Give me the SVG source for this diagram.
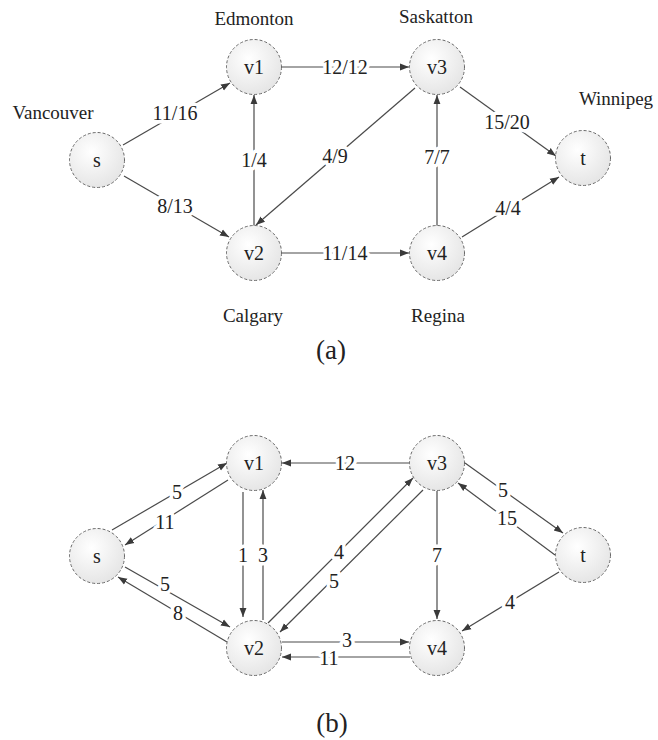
<svg xmlns="http://www.w3.org/2000/svg" width="658" height="740" viewBox="0 0 658 740">
<defs>
<radialGradient id="g" cx="0.4" cy="0.35" r="0.7">
<stop offset="0" stop-color="#ffffff"/>
<stop offset="1" stop-color="#e4e4e4"/>
</radialGradient>
<marker id="arr" viewBox="0 0 10 10" refX="10" refY="5" markerWidth="9" markerHeight="9" markerUnits="userSpaceOnUse" orient="auto">
<path d="M0,1.2 L10,5 L0,8.8 z" fill="#3a3a3a"/>
</marker>
</defs>
<style>
text{font-family:"Liberation Serif","Times New Roman",serif;fill:#222;text-anchor:middle;dominant-baseline:central}
.node circle{fill:url(#g);stroke:#6a6a6a;stroke-width:1;stroke-dasharray:3 2}
.node text{font-size:20px}
.city{font-size:19px}
.cap{font-size:27px}
.edges line{stroke:#4a4a4a;stroke-width:1.2;marker-end:url(#arr)}
.lbl{font-size:20px;stroke:#fff;stroke-width:7;paint-order:stroke;stroke-linejoin:round}
</style>
<rect width="658" height="740" fill="#fff"/>

<!-- (a) -->
<g id="edges-a" class="edges">
<line x1="123" y1="145" x2="230" y2="83"/>
<line x1="124" y1="176" x2="229" y2="237"/>
<line x1="254" y1="226" x2="254" y2="95"/>
<line x1="282" y1="67" x2="409" y2="67"/>
<line x1="415" y1="88" x2="256" y2="225"/>
<line x1="460" y1="87" x2="556" y2="156"/>
<line x1="437" y1="226" x2="437" y2="95"/>
<line x1="282" y1="253" x2="409" y2="253"/>
<line x1="462" y1="237" x2="559" y2="177"/>
<text class="lbl" x="175" y="113">11/16</text>
<text class="lbl" x="175" y="206">8/13</text>
<text class="lbl" x="254" y="160">1/4</text>
<text class="lbl" x="345" y="67">12/12</text>
<text class="lbl" x="335" y="156">4/9</text>
<text class="lbl" x="507" y="122">15/20</text>
<text class="lbl" x="437" y="157">7/7</text>
<text class="lbl" x="345" y="253">11/14</text>
<text class="lbl" x="508" y="208">4/4</text>
</g>
<g id="a-s" class="node"><circle cx="97" cy="160" r="27.5"/><text x="97" y="160">s</text></g>
<g id="a-v1" class="node"><circle cx="254" cy="67" r="27.5"/><text x="254" y="67">v1</text></g>
<g id="a-v2" class="node"><circle cx="254" cy="253" r="27.5"/><text x="254" y="253">v2</text></g>
<g id="a-v3" class="node"><circle cx="437" cy="67" r="27.5"/><text x="437" y="67">v3</text></g>
<g id="a-v4" class="node"><circle cx="437" cy="253" r="27.5"/><text x="437" y="253">v4</text></g>
<g id="a-t" class="node"><circle cx="583" cy="158" r="27.5"/><text x="583" y="158">t</text></g>
<g id="cities">
<text class="city" x="254" y="18">Edmonton</text>
<text class="city" x="53" y="112">Vancouver</text>
<text class="city" x="436" y="16">Saskatton</text>
<text class="city" x="616" y="98">Winnipeg</text>
<text class="city" x="253" y="315">Calgary</text>
<text class="city" x="438" y="315">Regina</text>
</g>
<text class="cap" x="331" y="350">(a)</text>

<!-- (b) -->
<g id="edges-b" class="edges">
<line x1="112" y1="530" x2="227" y2="463"/>
<line x1="228" y1="480" x2="125" y2="545"/>
<line x1="125" y1="567" x2="230" y2="627"/>
<line x1="227" y1="642" x2="118" y2="577"/>
<line x1="243" y1="492" x2="243" y2="617"/>
<line x1="263" y1="620" x2="263" y2="490"/>
<line x1="410" y1="463" x2="282" y2="463"/>
<line x1="268" y1="623" x2="413" y2="478"/>
<line x1="423" y1="490" x2="280" y2="632"/>
<line x1="437" y1="491" x2="437" y2="619"/>
<line x1="465" y1="463" x2="563" y2="533"/>
<line x1="555" y1="555" x2="458" y2="483"/>
<line x1="559" y1="572" x2="462" y2="631"/>
<line x1="282" y1="642" x2="409" y2="642"/>
<line x1="410" y1="657" x2="282" y2="657"/>
<text class="lbl" x="177" y="492">5</text>
<text class="lbl" x="165" y="522">11</text>
<text class="lbl" x="165" y="584">5</text>
<text class="lbl" x="178" y="613">8</text>
<text class="lbl" x="243" y="555">1</text>
<text class="lbl" x="263" y="555">3</text>
<text class="lbl" x="345" y="463">12</text>
<text class="lbl" x="339" y="552">4</text>
<text class="lbl" x="334" y="581">5</text>
<text class="lbl" x="437" y="555">7</text>
<text class="lbl" x="503" y="490">5</text>
<text class="lbl" x="507" y="518">15</text>
<text class="lbl" x="510" y="602">4</text>
<text class="lbl" x="347" y="640">3</text>
<text class="lbl" x="329" y="658">11</text>
</g>
<g id="b-s" class="node"><circle cx="97" cy="556" r="27.5"/><text x="97" y="556">s</text></g>
<g id="b-v1" class="node"><circle cx="254" cy="463" r="27.5"/><text x="254" y="463">v1</text></g>
<g id="b-v2" class="node"><circle cx="254" cy="648" r="27.5"/><text x="254" y="648">v2</text></g>
<g id="b-v3" class="node"><circle cx="437" cy="463" r="27.5"/><text x="437" y="463">v3</text></g>
<g id="b-v4" class="node"><circle cx="437" cy="648" r="27.5"/><text x="437" y="648">v4</text></g>
<g id="b-t" class="node"><circle cx="583" cy="555" r="27.5"/><text x="583" y="555">t</text></g>
<text class="cap" x="332" y="723">(b)</text>
</svg>
